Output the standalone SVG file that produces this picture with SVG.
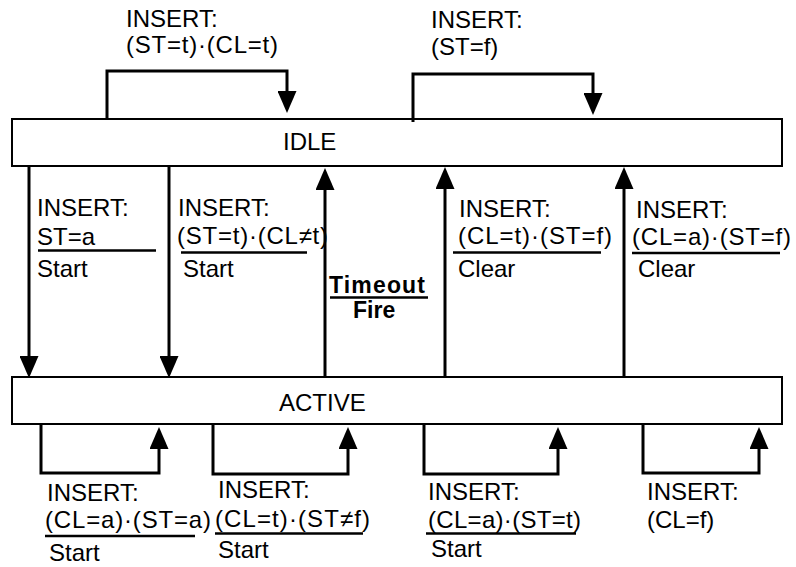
<svg xmlns="http://www.w3.org/2000/svg" width="796" height="567" viewBox="0 0 796 567">
<style>
text{font-family:"Liberation Sans",Arial,sans-serif;font-size:24px;fill:#000}
.b{font-weight:bold;font-size:23px}
.box{fill:#fff;stroke:#000;stroke-width:2}
.c{fill:none;stroke:#000;stroke-width:3}
.u{stroke:#000;stroke-width:2.5}
</style>
<defs>
<marker id="ah" viewBox="0 0 22 19" refX="16" refY="9.5" markerWidth="22" markerHeight="19" markerUnits="userSpaceOnUse" orient="auto">
<path d="M0,0 L22,9.5 L0,19 z" fill="#000"/>
</marker>
</defs>
<rect width="796" height="567" fill="#fff"/>
<g id="idle">
<rect class="box" x="12" y="119" width="770" height="47"/>
<text x="283" y="150">IDLE</text>
</g>
<g id="active">
<rect class="box" x="12" y="377" width="770" height="47"/>
<text x="279" y="411">ACTIVE</text>
</g>
<g id="connectors">
<path class="c" d="M107,119 V71 H287 V107" marker-end="url(#ah)"/>
<path class="c" d="M413,122 V74 H593 V109" marker-end="url(#ah)"/>
<path class="c" d="M29,166 V372" marker-end="url(#ah)"/>
<path class="c" d="M169,166 V372" marker-end="url(#ah)"/>
<path class="c" d="M325,377 V174" marker-end="url(#ah)"/>
<path class="c" d="M445,377 V173" marker-end="url(#ah)"/>
<path class="c" d="M624,377 V173" marker-end="url(#ah)"/>
<path class="c" d="M41,424 V473 H159 V433" marker-end="url(#ah)"/>
<path class="c" d="M213,424 V474 H348 V433" marker-end="url(#ah)"/>
<path class="c" d="M424,424 V474 H558 V433" marker-end="url(#ah)"/>
<path class="c" d="M643,424 V473 H759 V433" marker-end="url(#ah)"/>
</g>
<g id="labels">
<text x="126" y="27">INSERT:</text>
<text x="126" y="53" textLength="152" lengthAdjust="spacing">(ST=t)·(CL=t)</text>
<text x="431" y="28">INSERT:</text>
<text x="431" y="55">(ST=f)</text>

<text x="37" y="216">INSERT:</text>
<text x="37" y="245">ST=a</text>
<line class="u" x1="38" y1="250.5" x2="156" y2="250.5"/>
<text x="37" y="277">Start</text>

<text x="178" y="216">INSERT:</text>
<text x="177" y="244" textLength="151" lengthAdjust="spacing">(ST=t)·(CL≠t)</text>
<line class="u" x1="181" y1="252.5" x2="307" y2="252.5"/>
<text x="183" y="277">Start</text>

<text class="b" x="329" y="293" textLength="96" lengthAdjust="spacing">Timeout</text>
<line class="u" x1="330" y1="297.5" x2="428" y2="297.5"/>
<text class="b" x="353" y="318">Fire</text>

<text x="459" y="217">INSERT:</text>
<text x="458" y="243.5" textLength="154" lengthAdjust="spacing">(CL=t)·(ST=f)</text>
<line class="u" x1="453" y1="252.5" x2="601" y2="252.5"/>
<text x="458" y="277">Clear</text>

<text x="636" y="218">INSERT:</text>
<text x="632" y="245" textLength="159" lengthAdjust="spacing">(CL=a)·(ST=f)</text>
<line class="u" x1="632" y1="253" x2="780" y2="253"/>
<text x="638" y="277">Clear</text>

<text x="47" y="501">INSERT:</text>
<text x="45" y="528" textLength="166" lengthAdjust="spacing">(CL=a)·(ST=a)</text>
<line class="u" x1="45" y1="536" x2="195" y2="536"/>
<text x="49" y="561">Start</text>

<text x="218" y="498">INSERT:</text>
<text x="215" y="527" textLength="155" lengthAdjust="spacing">(CL=t)·(ST≠f)</text>
<line class="u" x1="215" y1="533.5" x2="363" y2="533.5"/>
<text x="218" y="558">Start</text>

<text x="428" y="500">INSERT:</text>
<text x="428" y="528" textLength="153" lengthAdjust="spacing">(CL=a)·(ST=t)</text>
<line class="u" x1="426" y1="533.5" x2="576" y2="533.5"/>
<text x="431" y="557">Start</text>

<text x="647" y="500">INSERT:</text>
<text x="647" y="528">(CL=f)</text>
</g>
</svg>
